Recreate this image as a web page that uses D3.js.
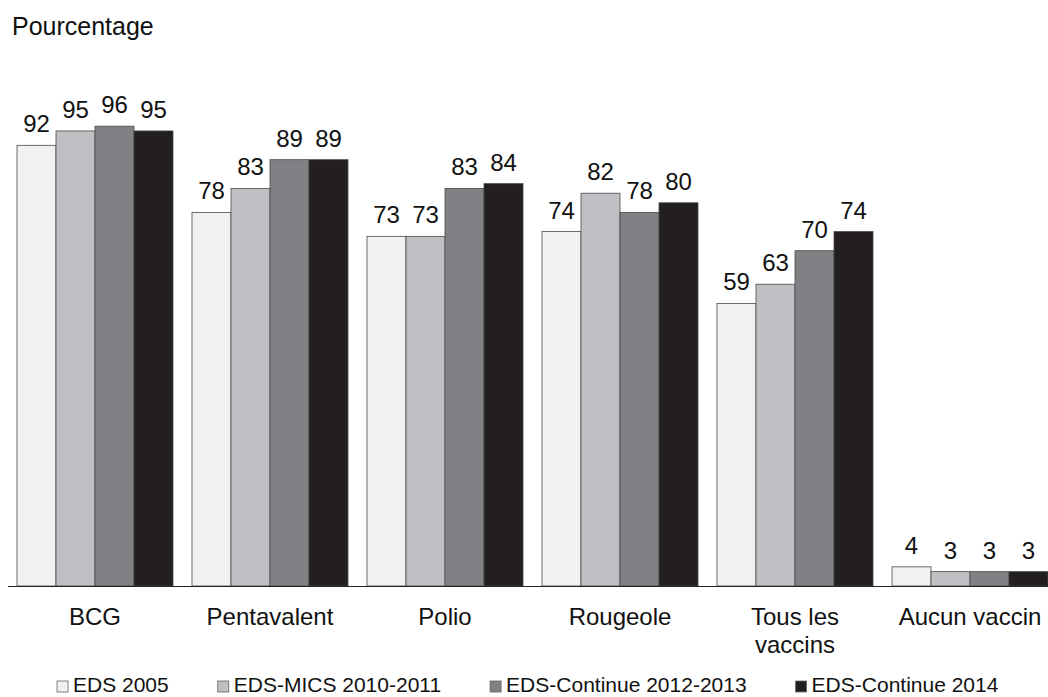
<!DOCTYPE html>
<html>
<head>
<meta charset="utf-8">
<script src="https://cdn.jsdelivr.net/npm/d3@7"></script>
<style>
  html, body { margin: 0; padding: 0; background: #fff; }
  svg { display: block; font-family: "Liberation Sans", Arial, sans-serif; }
</style>
</head>
<body>
<svg id="chart" width="1048" height="697"></svg>
<script>
// Vaccination coverage by survey
const categories = ["BCG", "Pentavalent", "Polio", "Rougeole", "Tous les\nvaccins", "Aucun vaccin"];
const seriesNames = ["EDS 2005", "EDS-MICS 2010-2011", "EDS-Continue 2012-2013", "EDS-Continue 2014"];
const eds2005 = [92, 78, 73, 74, 59, 4];
const edsMics2010 = [95, 83, 73, 82, 63, 3];
const edsCont2012 = [96, 89, 83, 78, 70, 3];
const edsCont2014 = [95, 89, 84, 80, 74, 3];
const seriesValues = [eds2005, edsMics2010, edsCont2012, edsCont2014];
const colors = ["#f0f1f0", "#bfc0c3", "#808184", "#231f20"];

const svg = d3.select("#chart");
const baseY = 586;

const x0 = d3.scaleBand()
  .domain(categories)
  .range([7.5, 1057.5])
  .paddingInner(19 / 175)
  .paddingOuter(19 / 350);

const x1 = d3.scaleBand()
  .domain(d3.range(seriesNames.length))
  .range([0, x0.bandwidth()]);

const y = d3.scaleLinear().domain([0, 100]).range([baseY, baseY - 479]);

// Axis title
svg.append("text")
  .attr("x", 12).attr("y", 35)
  .attr("font-size", 25).attr("fill", "#111")
  .text("Pourcentage");

// Bars with value labels
const groups = svg.selectAll("g.cat")
  .data(categories)
  .enter().append("g")
  .attr("class", "cat")
  .attr("transform", d => `translate(${x0(d)},0)`);

groups.each(function(cat, ci) {
  const g = d3.select(this);
  seriesValues.forEach((vals, si) => {
    const v = vals[ci];
    g.append("rect")
      .attr("x", x1(si))
      .attr("y", y(v))
      .attr("width", x1.bandwidth())
      .attr("height", baseY - y(v))
      .attr("fill", colors[si])
      .attr("stroke", "#4a4a4a")
      .attr("stroke-width", 0.8);
    g.append("text")
      .attr("x", x1(si) + x1.bandwidth() / 2)
      .attr("y", y(v) - 13)
      .attr("text-anchor", "middle")
      .attr("font-size", 24)
      .attr("fill", "#111")
      .text(v);
  });
});

// Baseline
svg.append("line")
  .attr("x1", 8).attr("x2", 1048)
  .attr("y1", baseY + 0.5).attr("y2", baseY + 0.5)
  .attr("stroke", "#222").attr("stroke-width", 1.2);

// Category labels
categories.forEach(cat => {
  const lines = cat.split("\n");
  const cx = x0(cat) + x0.bandwidth() / 2;
  const t = svg.append("text")
    .attr("x", cx)
    .attr("y", 625)
    .attr("text-anchor", "middle")
    .attr("font-size", 24)
    .attr("fill", "#111");
  lines.forEach((ln, i) => {
    t.append("tspan")
      .attr("x", cx)
      .attr("dy", i === 0 ? 0 : 28)
      .text(ln);
  });
});

// Legend, laid out left to right
let lx = 57;
seriesNames.forEach((name, i) => {
  svg.append("rect")
    .attr("x", lx).attr("y", 681)
    .attr("width", 11).attr("height", 11)
    .attr("fill", colors[i])
    .attr("stroke", "#666").attr("stroke-width", 0.8);
  const t = svg.append("text")
    .attr("x", lx + 16).attr("y", 692)
    .attr("font-size", 21).attr("fill", "#111")
    .text(name);
  lx += 16 + t.node().getComputedTextLength() + 49;
});
</script>
</body>
</html>
